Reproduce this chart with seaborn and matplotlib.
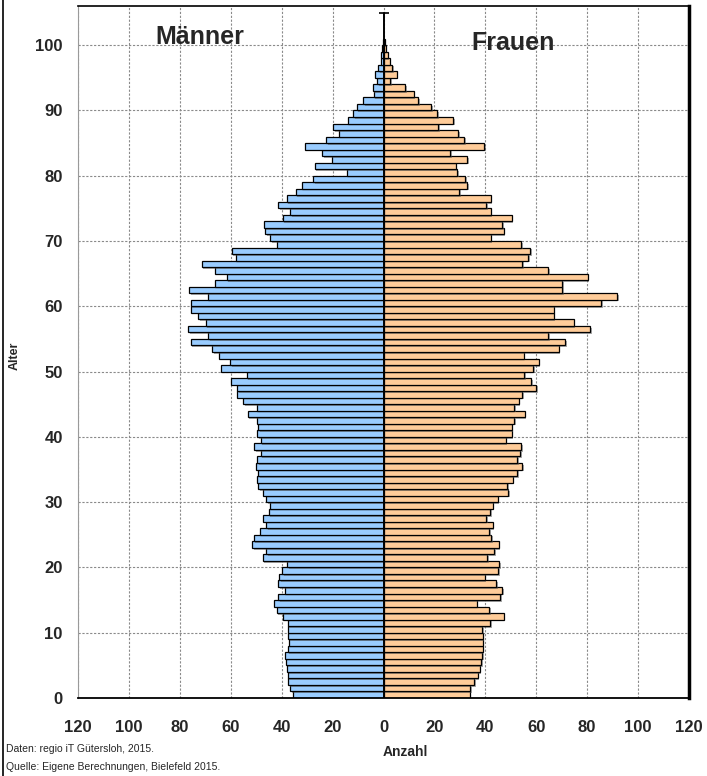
import matplotlib
matplotlib.use("Agg")
import matplotlib.pyplot as plt
import matplotlib.patheffects as pe
from matplotlib.lines import Line2D
import pandas as pd
import seaborn as sns

# Alter 0..100, Anzahl je Altersjahr
ages = list(range(0, 101))
maenner = [35.4, 36.6, 37.4, 37.7, 37.9, 38.3, 38.6, 37.7, 37.3, 37.4,
           37.5, 37.7, 39.4, 42.0, 42.9, 41.3, 38.7, 41.3, 41.1, 39.8,
           37.9, 47.4, 46.1, 51.6, 51.0, 48.7, 46.1, 47.4, 45.1, 44.4,
           46.1, 47.4, 49.1, 49.5, 49.1, 50.1, 49.5, 48.2, 50.9, 48.2,
           49.5, 49.1, 49.5, 53.3, 49.5, 55.0, 57.4, 57.4, 60.0, 53.7,
           63.8, 60.3, 64.7, 67.4, 75.8, 68.8, 76.7, 69.9, 72.7, 75.8,
           75.8, 68.8, 76.3, 66.1, 61.6, 66.1, 71.4, 57.9, 59.6, 41.8,
           44.6, 46.4, 46.8, 39.6, 36.7, 41.3, 38.0, 34.5, 32.1, 27.5,
           14.3, 27.1, 20.3, 24.0, 30.8, 22.5, 17.3, 19.9, 13.8, 11.8,
           10.6, 7.9, 3.9, 4.3, 2.4, 3.5, 2.0, 1.0, 0.8, 0.4,
           0.2]
frauen = [33.9, 34.1, 35.7, 37.0, 37.8, 38.3, 38.7, 39.0, 39.0, 39.0,
          38.7, 42.0, 47.2, 41.5, 36.6, 45.7, 46.6, 44.2, 39.8, 45.1,
          45.5, 40.7, 43.4, 45.3, 42.4, 41.5, 42.9, 40.2, 42.0, 42.9,
          44.9, 49.0, 48.5, 50.8, 52.6, 54.5, 52.6, 53.7, 54.1, 48.0,
          50.4, 50.4, 51.3, 55.4, 51.3, 53.1, 54.5, 60.0, 58.1, 55.2,
          58.7, 60.9, 55.0, 68.8, 71.4, 64.6, 81.1, 74.7, 66.8, 66.8,
          85.6, 91.7, 70.2, 70.2, 80.2, 64.6, 54.5, 56.7, 57.6, 54.1,
          42.1, 47.2, 46.5, 50.4, 42.1, 40.3, 42.1, 29.8, 32.9, 32.0,
          29.0, 28.3, 32.9, 26.1, 39.5, 31.6, 29.4, 21.4, 27.4, 21.1,
          18.8, 13.7, 11.8, 8.5, 2.6, 5.2, 3.5, 2.4, 1.6, 0.8,
          0.5]
x_ticks = list(range(-120, 121, 20))
x_labels = [str(abs(v)) for v in x_ticks]
y_ticks = list(range(0, 101, 10))

df = pd.DataFrame({"alter": ages, "maenner": maenner, "frauen": frauen})
df["pos"] = df["alter"] + 0.5
df["m_neg"] = -df["maenner"]

sns.set_style("white")
plt.rcParams["font.family"] = ["Liberation Sans", "DejaVu Sans"]

fig = plt.figure(figsize=(7.07, 7.76), dpi=100)
ax = fig.add_axes([78 / 707, 1 - 698 / 776, (689 - 78) / 707, (698 - 6) / 776])

shadow = [pe.SimplePatchShadow(offset=(1.2, -1.2), shadow_rgbFace="#555555", alpha=0.5), pe.Normal()]

sns.barplot(data=df, x="m_neg", y="pos", orient="h", native_scale=True, width=1,
            color="#99CCFF", saturation=1, edgecolor="black", linewidth=0.9,
            errorbar=None, ax=ax)
sns.barplot(data=df, x="frauen", y="pos", orient="h", native_scale=True, width=1,
            color="#FFCC99", saturation=1, edgecolor="black", linewidth=0.9,
            errorbar=None, ax=ax)
for p in ax.patches:
    p.set_path_effects(shadow)

ax.set_xlim(-120, 120)
ax.set_ylim(0, 106)

# Mittelachse
ax.plot([0, 0], [0, 105], color="black", lw=1.4, zorder=6)
ax.plot([0], [105], marker="_", ms=7, mew=1.2, color="black", zorder=6)

ax.set_xticks(x_ticks)
ax.set_xticklabels(x_labels, fontsize=12, fontweight="bold")
ax.set_xticks(list(range(-110, 120, 20)), minor=True)
ax.set_yticks(y_ticks)
ax.set_yticklabels([str(v) for v in y_ticks], fontsize=12, fontweight="bold")
ax.tick_params(axis="x", which="both", direction="inout", length=7, width=1,
               color="black", pad=12)
ax.tick_params(axis="y", length=0, pad=11)

ax.set_axisbelow(True)
ax.grid(True, color="#8a8a8a", linestyle=(0, (2, 1.5)), linewidth=0.8)

ax.spines["left"].set_color("#9a9a9a")
ax.spines["left"].set_linewidth(0.8)
ax.spines["top"].set_color("black")
ax.spines["top"].set_linewidth(1.2)
ax.spines["right"].set_color("black")
ax.spines["right"].set_linewidth(2.5)
ax.spines["bottom"].set_color("black")
ax.spines["bottom"].set_linewidth(1.3)

ax.set_xlabel("")
ax.set_ylabel("")

ax.text(-72, 101.2, "Männer", fontsize=18, fontweight="bold", ha="center", va="center")
ax.text(51, 100.3, "Frauen", fontsize=18, fontweight="bold", ha="center", va="center")

fig.text(15 / 707, 1 - 356 / 776, "Alter", rotation=90, fontsize=9, fontweight="bold",
         ha="center", va="center")
fig.text(405 / 707, 1 - 752 / 776, "Anzahl", fontsize=10, fontweight="bold",
         ha="center", va="center")
fig.text(6 / 707, 1 - 749 / 776, "Daten: regio iT Gütersloh, 2015.", fontsize=7.5,
         ha="left", va="center")
fig.text(6 / 707, 1 - 767 / 776, "Quelle: Eigene Berechnungen, Bielefeld 2015.", fontsize=7.5,
         ha="left", va="center")

fig.add_artist(Line2D([3 / 707, 3 / 707], [0, 1], color="black", lw=1.2))

fig.savefig("out.png", dpi=100)
